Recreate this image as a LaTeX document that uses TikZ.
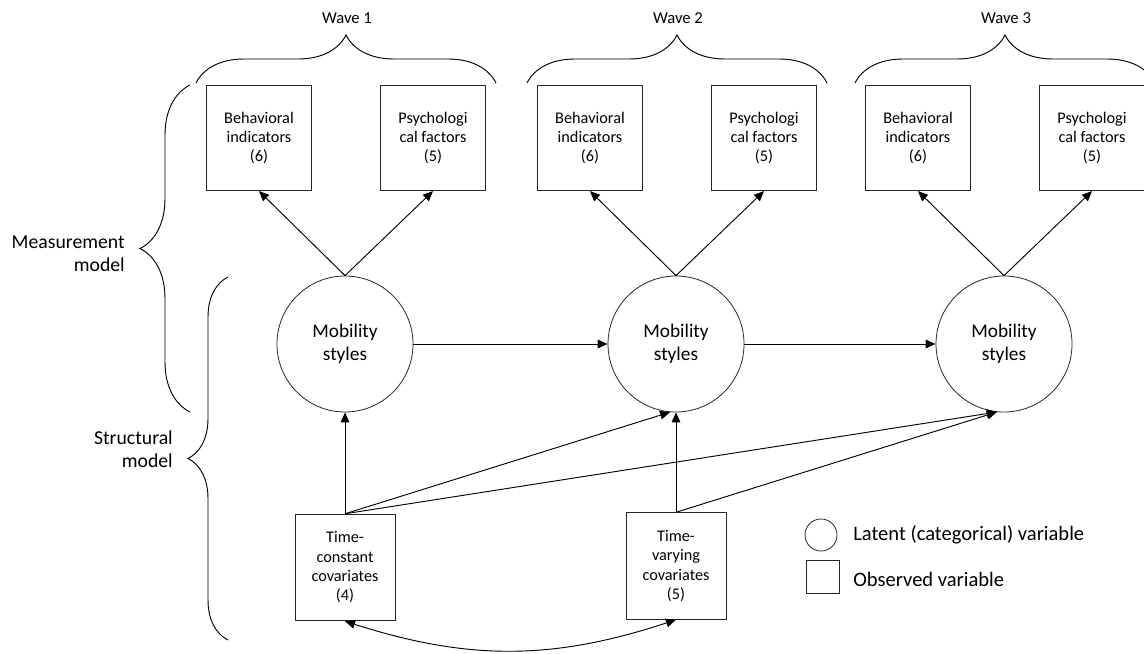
\documentclass[tikz,border=0pt]{standalone}
\usepackage{fontspec}
\setmainfont{Carlito}
\usetikzlibrary{arrows.meta,decorations.pathreplacing}

\begin{document}
\begin{tikzpicture}[x=0.75pt, y=0.75pt,
    obsbox/.style={draw=black!85, line width=0.6pt, minimum width=79pt, minimum height=79pt,
        inner sep=1pt, align=center, font=\fontsize{12.2}{14.5}\selectfont},
    covbox/.style={obsbox, minimum width=75pt, minimum height=80pt},
    latent/.style={draw=black!85, circle, line width=0.6pt, minimum size=102pt, inner sep=0pt,
        align=center, font=\fontsize{14.5}{17.5}\selectfont},
    arr/.style={-{Triangle[length=7.5pt,width=6.5pt]}, line width=0.7pt},
    dblarr/.style={{Triangle[length=7.5pt,width=6.5pt]}-{Triangle[length=7.5pt,width=6.5pt]}, line width=0.7pt},
    brc/.style={decorate, decoration={brace, amplitude=#1}, line width=0.7pt},
    sidelabel/.style={align=right, anchor=east, inner sep=0pt, font=\fontsize{14.8}{17.5}\selectfont},
    legendtext/.style={anchor=west, inner sep=0pt, font=\fontsize{15.4}{18}\selectfont}]
    \useasboundingbox (0,0) rectangle (1144,-653);

    % waves
    \foreach \i/\x in {1/345,2/676,3/1004}
    {
        \node[latent] (ms\i) at (\x,-344) {Mobility\\styles};
        \node[obsbox] (bi\i) at (\x-86,-138) {Behavioral\\indicators\\(6)};
        \node[obsbox] (pf\i) at (\x+88,-138) {Psychologi\\cal factors\\(5)};
        \draw[arr] (ms\i.north) -- (bi\i.south);
        \draw[arr] (ms\i.north) -- (pf\i.south);
        \draw[brc=36pt] (\x-149,-83) -- (\x+151,-83);
        \node[font=\fontsize{12.5}{15}\selectfont] (wv\i) at (\x+2,-18) {Wave \i};
    }
    \draw[arr] (ms1.east) -- (ms2.west);
    \draw[arr] (ms2.east) -- (ms3.west);

    % covariates
    \node[covbox] (tc) at (345,-567.5) {Time-\\constant\\covariates\\(4)};
    \node[covbox] (tv) at (676,-566) {Time-\\varying\\covariates\\(5)};
    \draw[arr] (tc.north) -- (ms1.south);
    \draw[arr] (tc.north) -- (ms2.-95);
    \draw[arr] (tc.north) -- (ms3.-96);
    \draw[arr] (tv.north) -- (ms2.south);
    \draw[arr] (tv.north) -- (ms3.-96);
    \draw[dblarr] (tc.south) to[bend right=18] (tv.south);

    % model braces
    \draw[brc=37.5pt] (190,-412) -- (190,-85);
    \node[sidelabel] (mm) at (125,-254) {Measurement\\model};
    \draw[brc=30pt] (228,-640) -- (228,-277);
    \node[sidelabel] (sm) at (173,-449) {Structural\\model};

    % legend
    \node[draw=black!85, circle, line width=0.6pt, minimum size=24pt, inner sep=0pt] (lgc) at (821,-535) {};
    \node[draw=black!85, line width=0.6pt, minimum size=24.75pt, inner sep=0pt] (lgs) at (822.5,-577) {};
    \node[legendtext] (lgct) at (853,-535) {Latent (categorical) variable};
    \node[legendtext] (lgst) at (853,-579) {Observed variable};
\end{tikzpicture}
\end{document}
